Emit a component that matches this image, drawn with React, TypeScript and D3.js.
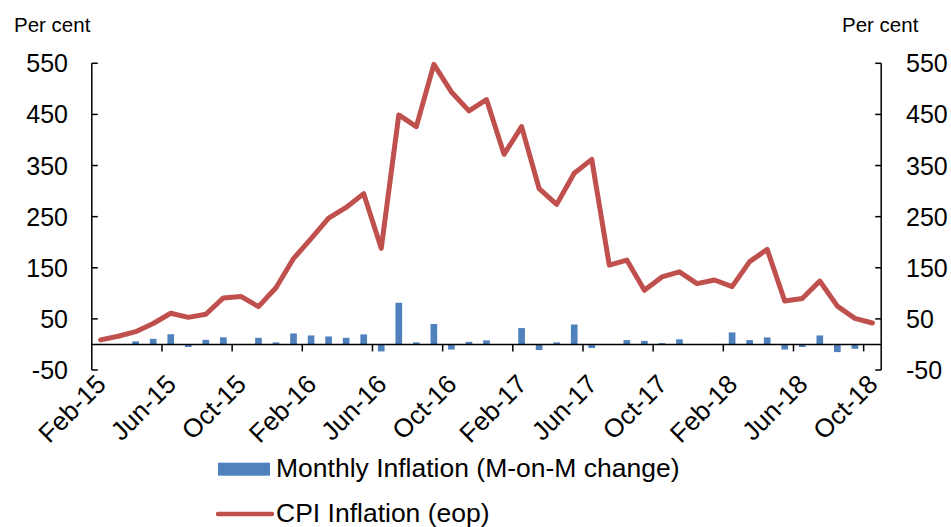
import React from "react";
import * as d3 from "d3";

const months: string[] = [
  "Feb-15","Mar-15","Apr-15","May-15","Jun-15","Jul-15","Aug-15","Sep-15","Oct-15","Nov-15","Dec-15","Jan-16",
  "Feb-16","Mar-16","Apr-16","May-16","Jun-16","Jul-16","Aug-16","Sep-16","Oct-16","Nov-16","Dec-16","Jan-17",
  "Feb-17","Mar-17","Apr-17","May-17","Jun-17","Jul-17","Aug-17","Sep-17","Oct-17","Nov-17","Dec-17","Jan-18",
  "Feb-18","Mar-18","Apr-18","May-18","Jun-18","Jul-18","Aug-18","Sep-18","Oct-18",
];

const cpiInflation: number[] = [
  9, 16, 25, 41, 61, 53, 59, 91, 94, 74,
  111, 168, 207, 247, 268, 295, 188, 449, 426, 548,
  494, 457, 479, 372, 426, 305, 274, 335, 362, 155,
  165, 106, 132, 142, 119, 126, 113, 162, 186, 85,
  90, 124, 75, 51, 42,
];

const monthlyInflation: number[] = [
  1, 0, 6, 11, 20, -5, 9, 14, 0, 13,
  4, 21.5, 17.6, 15.6, 13, 19.6, -13.7, 81.5, 4, 40,
  -10, 5, 8, 0, 32, -11, 4, 39, -7, 0,
  8.5, 7, 2.6, 10, 0, 1, 23.5, 8.5, 13.7, -10,
  -5, 17.6, -15, -8.5, 0,
];

const yTicks: number[] = [-50, 50, 150, 250, 350, 450, 550];
const xTickLabels: string[] = ["Feb-15","Jun-15","Oct-15","Feb-16","Jun-16","Oct-16","Feb-17","Jun-17","Oct-17","Feb-18","Jun-18","Oct-18"];

const seriesNames = ["Monthly Inflation (M-on-M change)", "CPI Inflation (eop)"];

const FONT = "'Liberation Sans', Arial, sans-serif";
const BLUE = "#4F81BD";
const RED = "#C0504D";

export default function App() {
  const W = 951, H = 527;
  const left = 91.8, right = 881.2;
  const x = d3.scaleBand<number>().domain(d3.range(months.length)).range([left, right]).paddingInner(0).paddingOuter(0);
  const y = d3.scaleLinear().domain([-50, 550]).range([370, 63.3]);
  const bw = x.bandwidth();
  const barW = bw * 0.38;
  const cx = (i: number) => (x(i) as number) + bw / 2;

  const line = d3.line<number>().x((_, i) => cx(i)).y((d) => y(d));

  const y0 = y(0);

  return (
    <svg width={W} height={H} style={{ position: "absolute", left: 0, top: 0, background: "#fff" }} fontFamily={FONT}>
      <rect x={0} y={0} width={W} height={H} fill="#fff" />
      {monthlyInflation.map((v, i) => (
        <rect key={i} x={cx(i) - barW / 2} y={Math.min(y(v), y0)} width={barW} height={Math.abs(y(v) - y0)} fill={BLUE} />
      ))}
      <line x1={left} x2={right} y1={y0} y2={y0} stroke="#000" strokeWidth={1.5} />
      {d3.range(4, months.length, 4).map((i) => (
        <line key={i} x1={x(i) as number} x2={x(i) as number} y1={y0} y2={y0 + 7} stroke="#000" strokeWidth={1.5} />
      ))}
      <path d={line(cpiInflation) || ""} fill="none" stroke={RED} strokeWidth={5} strokeLinejoin="round" strokeLinecap="round" />
      <line x1={left} x2={left} y1={y(550)} y2={y(-50)} stroke="#000" strokeWidth={1.5} />
      <line x1={right} x2={right} y1={y(550)} y2={y(-50)} stroke="#000" strokeWidth={1.5} />
      {yTicks.map((t) => (
        <g key={t}>
          <line x1={left} x2={left + 6} y1={y(t)} y2={y(t)} stroke="#000" strokeWidth={1.5} />
          <line x1={right - 6} x2={right} y1={y(t)} y2={y(t)} stroke="#000" strokeWidth={1.5} />
          <text x={68} y={y(t)} dy="0.36em" textAnchor="end" fontSize={25} fill="#000">{t}</text>
          <text x={906} y={y(t)} dy="0.36em" textAnchor="start" fontSize={25} fill="#000">{t}</text>
        </g>
      ))}
      <text x={14} y={32} fontSize={20.5} fill="#000">Per cent</text>
      <text x={842} y={32} fontSize={20.5} fill="#000">Per cent</text>
      {xTickLabels.map((lab) => {
        const i = months.indexOf(lab);
        const px = cx(i) - 6;
        const py = 373;
        return (
          <text key={lab} transform={`translate(${px},${py}) rotate(-45)`} textAnchor="end" dy="0.7em" fontSize={26} fill="#000">{lab}</text>
        );
      })}
      <rect x={218} y={462.7} width={52} height={13} fill={BLUE} />
      <text x={276} y={477} fontSize={26.5} fill="#000">{seriesNames[0]}</text>
      <line x1={218} x2={272} y1={514} y2={514} stroke={RED} strokeWidth={4.5} strokeLinecap="round" />
      <text x={276} y={522} fontSize={26.5} fill="#000">{seriesNames[1]}</text>
    </svg>
  );
}
